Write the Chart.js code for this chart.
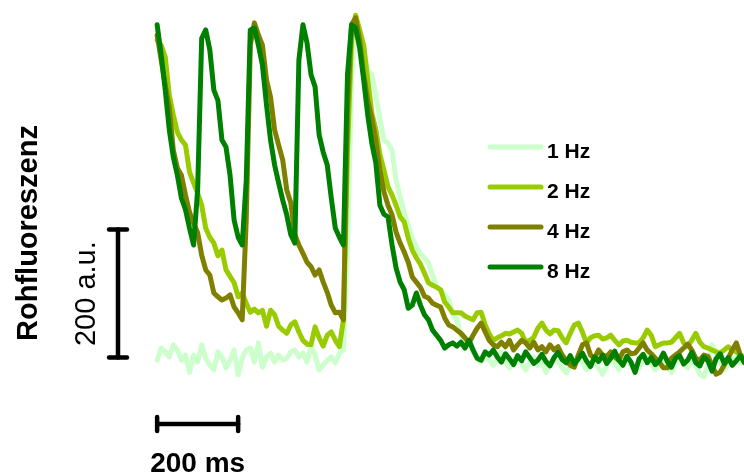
<!DOCTYPE html>
<html lang="de">
<head>
<meta charset="utf-8">
<title>Rohfluoreszenz</title>
<script src="https://cdn.jsdelivr.net/npm/chart.js@4.4.1/dist/chart.umd.min.js"></script>
<style>
  html, body { margin: 0; padding: 0; background: #fff; }
  #wrap { width: 744px; height: 475px; }
</style>
</head>
<body>
<div id="wrap"><canvas id="traces" width="744" height="475"></canvas></div>
<script>
// Raw fluorescence (a.u.), one sample every 10 ms, per stimulation frequency
const SAMPLE_MS = 10;
const frequencies = ['1 Hz', '2 Hz', '4 Hz', '8 Hz'];

const trace1Hz = [
    31, 50, 44, 36, 55, 47, 31, 39, 12, 39,
    28, 55, 34, 23, 16, 44, 36, 19, 31, 47,
    8, 34, 47, 50, 28, 58, 20, 36, 42, 28,
    39, 31, 34, 44, 47, 36, 42, 28, 52, 39,
    16, 23, 31, 36, 27, 42, 47, 203, 469, 559,
    547, 516, 484, 477, 445, 409, 375, 370, 359, 312,
    286, 261, 241, 222, 208, 197, 191, 183, 164, 145,
    141, 133, 125, 102, 94, 70, 55, 58, 44, 34,
    28, 39, 31, 23, 34, 44, 28, 19, 31, 39,
    25, 16, 28, 36, 22, 31, 12, 23, 34, 28,
    19, 11, 23, 31, 39, 28, 16, 22, 31, 19,
    9, 23, 34, 27, 16, 28, 37, 23, 12, 19,
    31, 39, 25, 16, 23, 34, 22, 12, 28, 36,
    23, 19, 31, 22, 9, 5, 23, 55, 44, 28,
    16, 23, 31, 37, 27, 34
];

const trace2Hz = [
    531, 523, 505, 445, 414, 387, 375, 367, 325, 308,
    292, 273, 237, 223, 214, 194, 203, 172, 162, 152,
    130, 136, 120, 106, 111, 105, 109, 84, 109, 102,
    84, 78, 73, 86, 91, 75, 62, 56, 55, 83,
    66, 53, 70, 75, 62, 52, 94, 359, 531, 570,
    547, 523, 469, 417, 391, 352, 328, 302, 289, 273,
    255, 247, 222, 203, 191, 181, 167, 152, 148, 145,
    141, 122, 114, 105, 105, 105, 100, 97, 94, 105,
    106, 86, 72, 62, 66, 69, 73, 72, 75, 78,
    73, 59, 62, 67, 81, 89, 78, 72, 78, 77,
    66, 58, 73, 86, 89, 75, 58, 66, 69, 70,
    64, 66, 70, 62, 55, 61, 62, 59, 58, 58,
    66, 78, 70, 52, 55, 58, 58, 59, 66, 73,
    58, 53, 62, 73, 59, 52, 50, 47, 44, 42,
    47, 52, 47, 44, 39, 36
];

const trace4Hz = [
    539, 500, 461, 425, 359, 331, 320, 289, 262, 245,
    230, 195, 172, 164, 136, 130, 125, 128, 133, 114,
    105, 94, 250, 523, 558, 539, 523, 469, 442, 391,
    367, 344, 297, 277, 227, 211, 198, 184, 177, 164,
    172, 153, 137, 117, 105, 106, 94, 422, 555, 566,
    531, 477, 437, 409, 375, 328, 294, 273, 258, 231,
    214, 200, 184, 161, 153, 145, 131, 128, 120, 117,
    114, 97, 86, 83, 78, 73, 66, 58, 70, 81,
    89, 75, 62, 55, 52, 59, 52, 62, 47, 55,
    62, 58, 50, 59, 47, 52, 44, 55, 47, 52,
    39, 31, 23, 20, 39, 55, 58, 39, 34, 47,
    39, 37, 44, 36, 31, 44, 47, 41, 42, 50,
    58, 47, 41, 34, 28, 19, 19, 34, 39, 44,
    50, 56, 47, 34, 31, 39, 37, 23, 9, 12,
    23, 34, 47, 58, 39, 27
];

const trace8Hz = [
    555, 508, 453, 391, 348, 320, 284, 266, 237, 211,
    297, 534, 547, 516, 453, 437, 375, 364, 320, 250,
    223, 211, 312, 547, 550, 523, 492, 430, 375, 336,
    308, 281, 258, 227, 214, 500, 555, 527, 477, 458,
    383, 356, 336, 284, 237, 223, 211, 477, 555, 550,
    519, 469, 414, 370, 339, 273, 259, 255, 211, 175,
    153, 141, 112, 117, 136, 117, 102, 94, 78, 70,
    62, 50, 55, 58, 53, 59, 50, 62, 47, 34,
    31, 44, 39, 47, 36, 28, 41, 33, 24, 38,
    30, 44, 35, 26, 31, 40, 29, 22, 35, 43,
    32, 27, 38, 25, 33, 42, 30, 21, 36, 29,
    39, 26, 34, 45, 31, 23, 37, 28, 12, 33,
    40, 27, 35, 24, 30, 42, 29, 20, 34, 38,
    25, 31, 43, 27, 22, 36, 30, 14, 33, 41,
    26, 35, 23, 30, 38, 28
];

const series = [trace1Hz, trace2Hz, trace4Hz, trace8Hz];
const colors = ['#ccffcc', '#99cc00', '#808000', '#008000'];

// scale bars
const scaleBarMs = 200;
const scaleBarAu = 200;
const scaleBarBaseAu = 35;

const FONT = "'Liberation Sans', Arial, sans-serif";

function stroke(ctx, x0, y0, x1, y1) {
    ctx.beginPath();
    ctx.moveTo(x0, y0);
    ctx.lineTo(x1, y1);
    ctx.stroke();
}

// scale bars, axis title and legend drawn on top of the traces
const overlay = {
    id: 'overlay',
    afterDatasetsDraw(chart) {
        const ctx = chart.ctx;
        const xs = chart.scales.x;
        const ys = chart.scales.y;
        ctx.save();
        ctx.strokeStyle = '#000';
        ctx.fillStyle = '#000';
        ctx.lineWidth = 4.5;
        ctx.lineCap = 'round';

        // time bar
        const tx0 = xs.getPixelForValue(0);
        const tx1 = xs.getPixelForValue(scaleBarMs);
        const ty = 424;
        stroke(ctx, tx0, ty, tx1, ty);
        stroke(ctx, tx0, ty - 7, tx0, ty + 7);
        stroke(ctx, tx1, ty - 7, tx1, ty + 7);
        ctx.font = 'bold 28px ' + FONT;
        ctx.textAlign = 'center';
        ctx.textBaseline = 'alphabetic';
        ctx.fillText(scaleBarMs + ' ms', (tx0 + tx1) / 2, 472);

        // amplitude bar
        const ax = 118;
        const ay0 = ys.getPixelForValue(scaleBarBaseAu);
        const ay1 = ys.getPixelForValue(scaleBarBaseAu + scaleBarAu);
        stroke(ctx, ax, ay0, ax, ay1);
        stroke(ctx, ax - 9, ay0, ax + 9, ay0);
        stroke(ctx, ax - 9, ay1, ax + 9, ay1);

        ctx.save();
        ctx.translate(95, (ay0 + ay1) / 2);
        ctx.rotate(-Math.PI / 2);
        ctx.font = '29px ' + FONT;
        ctx.fillText(scaleBarAu + ' a.u.', 0, 0);
        ctx.restore();

        ctx.save();
        ctx.translate(37, 233);
        ctx.rotate(-Math.PI / 2);
        ctx.font = 'bold 29px ' + FONT;
        ctx.fillText('Rohfluoreszenz', 0, 0);
        ctx.restore();

        // legend
        ctx.textAlign = 'left';
        ctx.font = 'bold 21px ' + FONT;
        ctx.lineWidth = 5;
        chart.data.datasets.forEach((ds, i) => {
            const ly = 147 + i * 40;
            ctx.strokeStyle = ds.borderColor;
            stroke(ctx, 490, ly, 541, ly);
            ctx.fillText(ds.label, 547, ly + 11);
        });
        ctx.restore();
    }
};

new Chart(document.getElementById('traces'), {
    type: 'line',
    data: {
        datasets: frequencies.map((label, i) => ({
            label: label,
            data: series[i].map((v, k) => ({ x: k * SAMPLE_MS, y: v })),
            borderColor: colors[i],
            borderWidth: 5,
            borderJoinStyle: 'round',
            borderCapStyle: 'round',
            pointRadius: 0,
            tension: 0,
            fill: false,
            order: frequencies.length - i
        }))
    },
    options: {
        responsive: false,
        animation: false,
        events: [],
        layout: { padding: 0 },
        plugins: {
            legend: { display: false },
            tooltip: { enabled: false }
        },
        scales: {
            x: { type: 'linear', display: false, min: -388, max: 1449 },
            y: { display: false, min: -148.4, max: 593.75 }
        }
    },
    plugins: [overlay]
});
</script>
</body>
</html>
